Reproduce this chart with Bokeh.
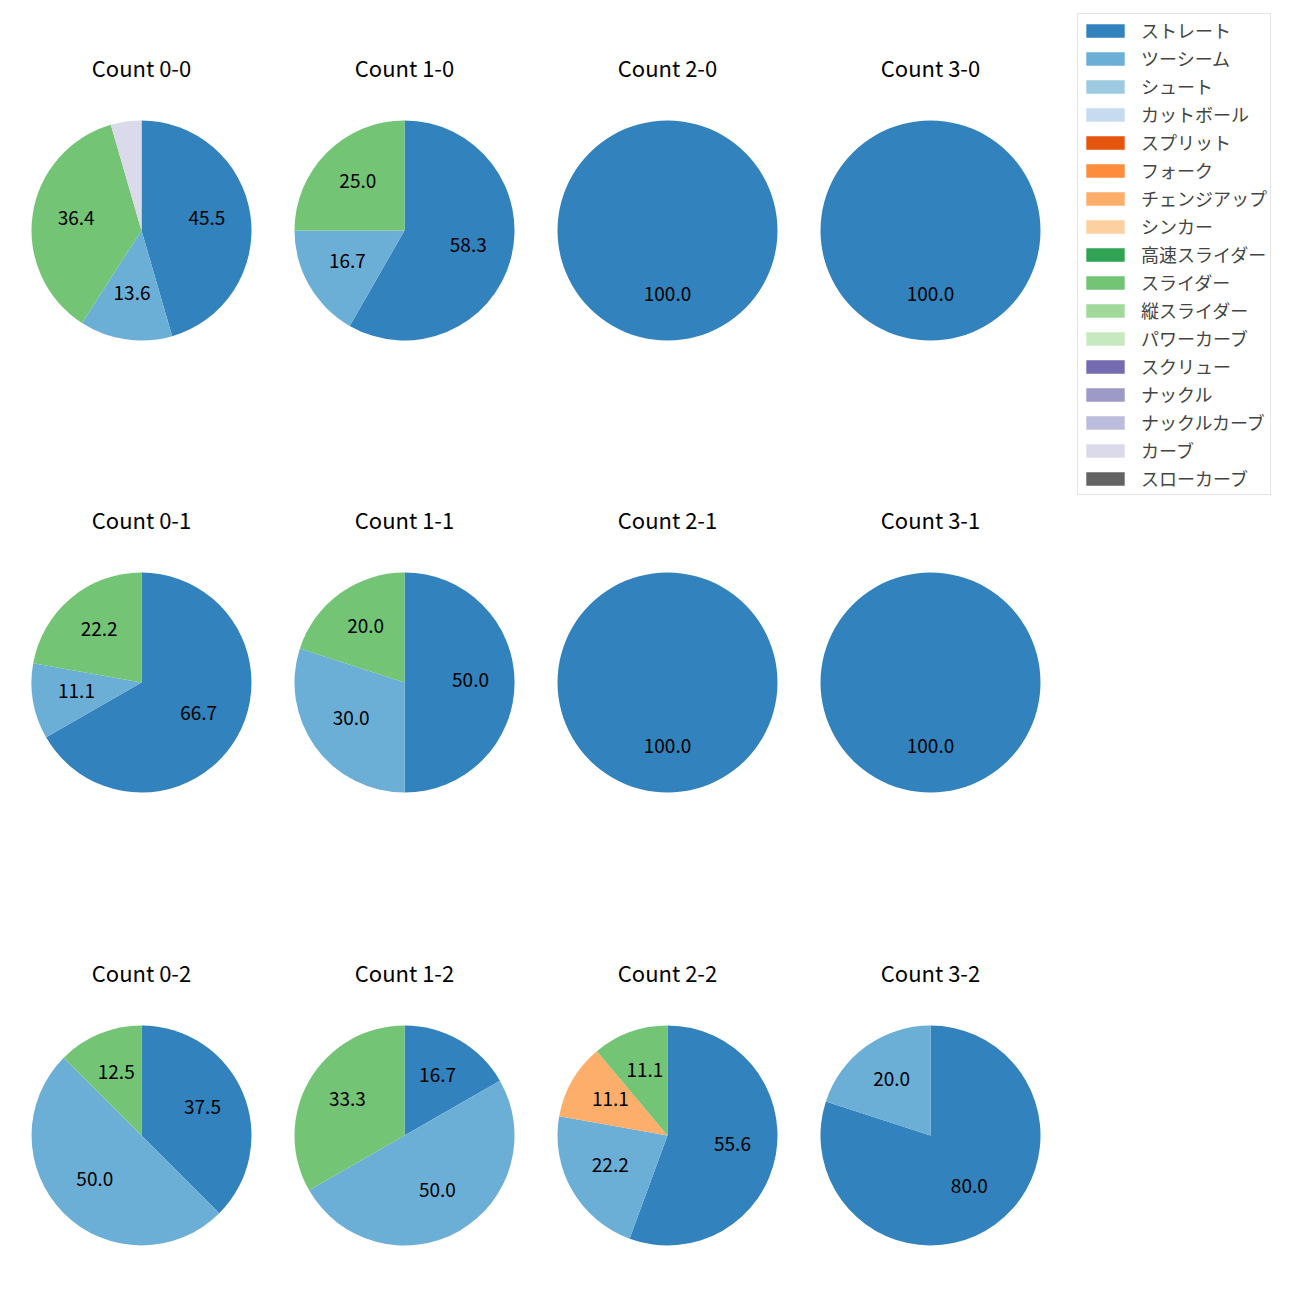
import math
from bokeh.plotting import figure
from bokeh.models import ColumnDataSource, Range1d, Legend, LegendItem
from bokeh.core.properties import value
from bokeh.embed import file_html
from bokeh.resources import INLINE

# ---------------- data ----------------
counts = ["0-0", "1-0", "2-0", "3-0", "0-1", "1-1", "2-1", "3-1", "0-2", "1-2", "2-2", "3-2"]
pitch_types = ["ストレート", "ツーシーム", "シュート", "カットボール", "スプリット", "フォーク",
               "チェンジアップ", "シンカー", "高速スライダー", "スライダー", "縦スライダー",
               "パワーカーブ", "スクリュー", "ナックル", "ナックルカーブ", "カーブ", "スローカーブ"]
colors = ["#3182bd", "#6baed6", "#9ecae1", "#c6dbef", "#e6550d", "#fd8d3c", "#fdae6b", "#fdd0a2",
          "#31a354", "#74c476", "#a1d99b", "#c7e9c0", "#756bb1", "#9e9ac8", "#bcbddc", "#dadaeb",
          "#636363"]
straight = [45.5, 58.3, 100.0, 100.0, 66.7, 50.0, 100.0, 100.0, 37.5, 16.7, 55.6, 80.0]
twoseam  = [13.6, 16.7, 0, 0, 11.1, 30.0, 0, 0, 50.0, 50.0, 22.2, 20.0]
changeup = [0, 0, 0, 0, 0, 0, 0, 0, 0, 0, 11.1, 0]
slider   = [36.4, 25.0, 0, 0, 22.2, 20.0, 0, 0, 12.5, 33.3, 11.1, 0]
curve    = [4.5, 0, 0, 0, 0, 0, 0, 0, 0, 0, 0, 0]
series = {"ストレート": straight, "ツーシーム": twoseam, "チェンジアップ": changeup,
          "スライダー": slider, "カーブ": curve}

# ---------------- layout ----------------
W = H = 1284
col_x = [141, 404, 667, 930]
row_y = [230, 682, 1135]
R = 110
FONT = "Noto Sans CJK JP"

def ypos(ref_y):
    return 1300 - ref_y

p = figure(width=W, height=H, output_backend="svg", toolbar_location=None,
           x_range=Range1d(0, W), y_range=Range1d(1300 - H, 1300),
           x_axis_location=None, y_axis_location=None, min_border=0)
p.grid.visible = False
p.outline_line_color = None

# wedge sources per pitch type (zero-share types get a zero radius, i.e. no wedge)
srcs = {t: dict(x=[], y=[], s=[], e=[], r=[]) for t in pitch_types}
lab = dict(x=[], y=[], t=[])
for i, c in enumerate(counts):
    cx = col_x[i % 4]
    cy = ypos(row_y[i // 4])
    total = sum(series[t][i] for t in series)
    ang = math.pi / 2
    for t in pitch_types:
        v = series[t][i] if t in series else 0.0
        sweep = v / total * 2 * math.pi
        start, end = ang - sweep, ang
        if sweep >= 2 * math.pi - 1e-9:
            start = ang - 2 * math.pi + 1e-6
        srcs[t]["x"].append(cx); srcs[t]["y"].append(cy)
        srcs[t]["s"].append(start); srcs[t]["e"].append(end)
        srcs[t]["r"].append(R if v > 0 else 0)
        mid = ang - sweep / 2
        if v >= 5:
            lab["x"].append(cx + 0.6 * R * math.cos(mid))
            lab["y"].append(cy + 0.6 * R * math.sin(mid))
            lab["t"].append(f"{v:.1f}")
        ang -= sweep

items = []
for t, col in zip(pitch_types, colors):
    r = p.wedge(x="x", y="y", radius="r", start_angle="s", end_angle="e", direction="anticlock",
                source=ColumnDataSource(srcs[t]), fill_color=col, line_color=None)
    items.append(LegendItem(label=t, renderers=[r]))

p.text(x="x", y="y", text="t", source=ColumnDataSource(lab), text_align="center",
       text_baseline="middle", y_offset=-3, text_font=value(FONT), text_font_size="19px",
       text_color="#000000")

tsrc = ColumnDataSource(dict(x=[col_x[i % 4] for i in range(12)],
                             y=[ypos(row_y[i // 4] - 164) for i in range(12)],
                             t=["Count " + c for c in counts]))
p.text(x="x", y="y", text="t", source=tsrc, text_align="center", text_baseline="middle",
       text_font=value(FONT), text_font_size="22px", text_color="#000000")

legend = Legend(items=items, location=(1077, 789), padding=3, spacing=2, margin=0,
                glyph_width=48, glyph_height=17, label_standoff=12,
                label_text_font=FONT, label_text_font_size="18px",
                border_line_color="#cccccc", border_line_width=1,
                background_fill_color="white", background_fill_alpha=0.8)
p.add_layout(legend, "center")

open("out.html", "w").write(file_html(p, INLINE))
